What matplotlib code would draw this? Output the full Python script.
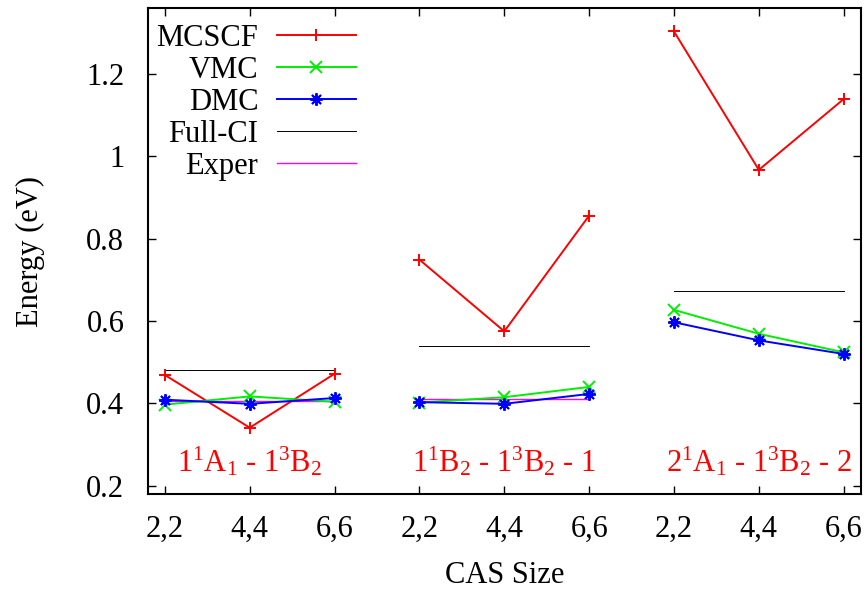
import numpy as np
import matplotlib.pyplot as plt

plt.rcParams['font.family'] = ['Liberation Serif', 'DejaVu Serif']
plt.rcParams['mathtext.fontset'] = 'custom'
plt.rcParams['mathtext.rm'] = 'Liberation Serif'
plt.rcParams['mathtext.it'] = 'Liberation Serif:italic'

# CAS sizes, three per transition
cas_labels = ['2,2', '4,4', '6,6', '2,2', '4,4', '6,6', '2,2', '4,4', '6,6']
transitions = [r'$1^1$A$_1$ - $1^3$B$_2$',
               r'$1^1$B$_2$ - $1^3$B$_2$ - 1',
               r'$2^1$A$_1$ - $1^3$B$_2$ - 2']

# excitation energies (eV)
mcscf = [0.469, 0.341, 0.472, 0.749, 0.575, 0.856, 1.303, 0.967, 1.139]
vmc = [0.397, 0.417, 0.404, 0.402, 0.415, 0.440, 0.627, 0.569, 0.524]
dmc = [0.409, 0.399, 0.413, 0.403, 0.399, 0.423, 0.597, 0.553, 0.520]
full_ci = [0.482, 0.540, 0.673]
exper = [0.406, 0.410, np.nan]

FS = 22
fig = plt.figure(figsize=(8.65, 5.9), dpi=100)
ax = fig.add_axes([0.171, 0.1627, 0.824, 0.8237])

x = np.arange(1, 10)
for g in range(3):
    sl = slice(3 * g, 3 * g + 3)
    xs = x[sl]
    ax.plot(xs, mcscf[sl], color='red', lw=1.4, marker='+', ms=9, mew=1.4,
            label='MCSCF' if g == 0 else None, zorder=3)
    ax.plot(xs, vmc[sl], color='#00ee00', lw=1.4, marker='x', ms=8, mew=1.4,
            label='VMC' if g == 0 else None, zorder=4)
    ax.plot(xs, dmc[sl], color='blue', lw=1.4, marker=(8, 2, 0), ms=9, mew=1.4,
            label='DMC' if g == 0 else None, zorder=5)
    ax.plot([xs[0], xs[-1]], [full_ci[g]] * 2, color='black', lw=0.7,
            label='Full-CI' if g == 0 else None, zorder=2)
    ax.plot([xs[0], xs[-1]], [exper[g]] * 2, color='magenta', lw=1.0,
            label='Exper' if g == 0 else None, zorder=2)
    ax.text(xs[1], 0.234, transitions[g], color='red', fontsize=FS,
            ha='center', va='baseline')

ax.set_xlim(0.8, 9.2)
ax.set_ylim(0.18, 1.36)
ax.set_xticks(x)
ax.set_xticklabels(cas_labels)
ax.set_yticks([0.2, 0.4, 0.6, 0.8, 1.0, 1.2])
ax.set_yticklabels(['0.2', '0.4', '0.6', '0.8', '1', '1.2'])
ax.tick_params(direction='in', length=6, width=1, top=True, right=True,
               labelsize=FS)
ax.tick_params(axis='x', pad=15)
ax.tick_params(axis='y', pad=17)
for s in ax.spines.values():
    s.set_linewidth(1.5)

ax.set_xlabel('CAS Size', fontsize=FS, labelpad=12)
ax.set_ylabel('Energy (eV)', fontsize=FS, labelpad=30)

ax.legend(loc='upper left', bbox_to_anchor=(0.012, 0.968), frameon=False,
          markerfirst=False, fontsize=FS, handlelength=2.6, handletextpad=0.6,
          labelspacing=0.10, borderpad=0.0, borderaxespad=0.0)

fig.savefig('out.png', dpi=100)
